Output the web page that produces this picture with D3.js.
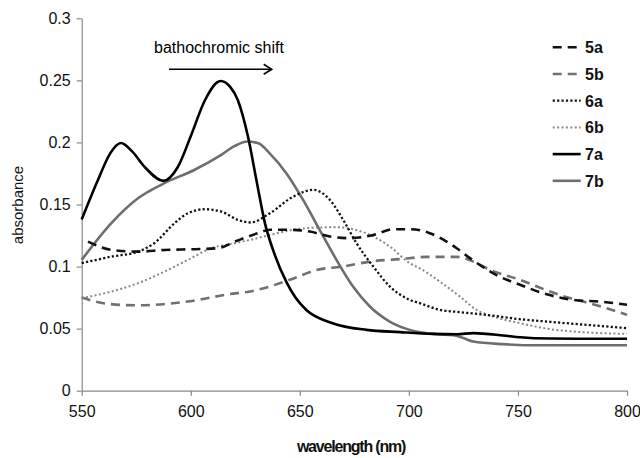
<!DOCTYPE html>
<html>
<head>
<meta charset="utf-8">
<script src="https://cdn.jsdelivr.net/npm/d3@7"></script>
<style>
  html, body { margin: 0; padding: 0; background: #fff; }
  svg { display: block; font-family: "Liberation Sans", Arial, sans-serif; }
</style>
</head>
<body>
<svg id="chart" width="640" height="458"></svg>
<script>
// ---- data ----
const seriesNames = ["5a", "5b", "6a", "6b", "7a", "7b"];

const wl5a = [552.9, 563.6, 575.8, 588, 601.8, 612.5, 620.1, 630.8, 636.3, 645.4, 654.6, 663.8, 673, 683.7, 692.9, 700.4, 709.6, 717.3, 721.9, 728, 740, 751, 765, 775.3, 787.6, 800];
const abs5a = [0.1201, 0.1134, 0.112, 0.1134, 0.114, 0.1148, 0.120, 0.1269, 0.1296, 0.1296, 0.1282, 0.1242, 0.1229, 0.1255, 0.1301, 0.1301, 0.1269, 0.1201, 0.1148, 0.1068, 0.0933, 0.0853, 0.0768, 0.0732, 0.0718, 0.0692];

const wl5b = [550, 562, 574.3, 587.5, 600.6, 617.4, 627.1, 645.4, 657.7, 669.9, 682.1, 695.9, 708.1, 721.9, 729.5, 737.1, 750.9, 764.7, 772, 779.9, 790.6, 800];
const abs5b = [0.075, 0.070, 0.0688, 0.0697, 0.0723, 0.0777, 0.0799, 0.0893, 0.0973, 0.100, 0.104, 0.106, 0.1078, 0.1078, 0.104, 0.0975, 0.0893, 0.0799, 0.0755, 0.0718, 0.0665, 0.0611];

const wl6a = [550, 563.6, 575.8, 583.4, 592.6, 598.7, 606.4, 614, 621.6, 627.5, 636.3, 647, 656.2, 663.8, 669.9, 676, 683.7, 691.3, 700.4, 705, 714.2, 723.4, 735.6, 750.9, 764.7, 800];
const abs6a = [0.1027, 0.108, 0.112, 0.119, 0.135, 0.143, 0.1462, 0.1443, 0.1376, 0.1355, 0.143, 0.1564, 0.1618, 0.1537, 0.1376, 0.1188, 0.100, 0.0839, 0.0732, 0.0705, 0.0651, 0.0633, 0.0611, 0.0576, 0.0555, 0.0504];

const wl6b = [550, 563.6, 575.8, 588, 598.7, 609.4, 620.1, 629, 636.3, 647, 657.7, 666.8, 674.4, 683.7, 691.3, 700.4, 704.9, 714.2, 723.4, 731, 738.7, 750.9, 764.7, 775.3, 800];
const abs6b = [0.0745, 0.0799, 0.0866, 0.096, 0.1054, 0.1148, 0.1188, 0.1222, 0.1255, 0.1296, 0.1314, 0.1317, 0.1301, 0.1242, 0.1161, 0.1027, 0.0987, 0.0879, 0.0758, 0.0651, 0.0597, 0.0544, 0.0496, 0.0477, 0.0458];

const wl7a = [550, 557.5, 563, 568, 573, 579, 587.5, 594, 600, 606.5, 613.7, 618, 621.6, 626.2, 630.5, 634, 638, 644, 648, 653, 665, 680.6, 696, 711, 722, 729.5, 743.2, 751, 764.7, 800];
const abs7a = [0.138, 0.170, 0.191, 0.1995, 0.193, 0.180, 0.169, 0.180, 0.205, 0.234, 0.2495, 0.245, 0.234, 0.205, 0.166, 0.135, 0.112, 0.087, 0.075, 0.065, 0.0544, 0.049, 0.0472, 0.0458, 0.0455, 0.0464, 0.0445, 0.043, 0.0420, 0.0418];

const wl7b = [550, 563.6, 575.8, 587.7, 601.8, 614, 620, 626, 631, 636.3, 643.9, 651.5, 659.1, 666.8, 674.4, 682.1, 691.2, 700.4, 712.6, 720.3, 724.9, 729.5, 743.2, 760, 800];
const abs7b = [0.1054, 0.135, 0.155, 0.167, 0.178, 0.190, 0.197, 0.2007, 0.1993, 0.191, 0.175, 0.1537, 0.1296, 0.1054, 0.0839, 0.0678, 0.0557, 0.049, 0.0455, 0.0448, 0.0424, 0.0396, 0.0375, 0.0366, 0.0366];

const xTicks = [550, 600, 650, 700, 750, 800];
const yTicks = [0, 0.05, 0.1, 0.15, 0.2, 0.25, 0.3];
const yTickLabels = ["0", "0.05", "0.1", "0.15", "0.2", "0.25", "0.3"];

// ---- styles ----
const styles = {
  "5a": { color: "#111", width: 2.6, dash: "9,6" },
  "5b": { color: "#707070", width: 2.6, dash: "9,6" },
  "6a": { color: "#111", width: 2.3, dash: "2.2,2.2" },
  "6b": { color: "#888", width: 2.0, dash: "2,2.4" },
  "7a": { color: "#000", width: 2.6, dash: null },
  "7b": { color: "#6e6e6e", width: 2.6, dash: null }
};

const dataMap = {
  "5a": [wl5a, abs5a], "5b": [wl5b, abs5b], "6a": [wl6a, abs6a],
  "6b": [wl6b, abs6b], "7a": [wl7a, abs7a], "7b": [wl7b, abs7b]
};

// ---- layout ----
const mLeft = 81.7, mRight = 627, mTop = 18.3, mBottom = 390.7;
const svg = d3.select("#chart");
const x = d3.scaleLinear().domain([550, 800]).range([mLeft, mRight]);
const y = d3.scaleLinear().domain([0, 0.3]).range([mBottom, mTop]);

// axes
const axisColor = "#888";
const xAxis = svg.append("g").attr("transform", `translate(0,${mBottom})`)
  .call(d3.axisBottom(x).tickValues(xTicks).tickSize(5).tickPadding(10).tickSizeOuter(0));
const yAxis = svg.append("g").attr("transform", `translate(${mLeft},0)`)
  .call(d3.axisLeft(y).tickValues(yTicks).tickSize(5).tickPadding(6).tickSizeOuter(0)
    .tickFormat((d, i) => yTickLabels[i]));
[xAxis, yAxis].forEach(g => {
  g.select(".domain").attr("stroke", axisColor).attr("stroke-width", 1.2);
  g.selectAll(".tick line").attr("stroke", axisColor).attr("stroke-width", 1.2);
  g.selectAll(".tick text").attr("fill", "#111").attr("font-size", 16)
    .attr("font-family", "'Liberation Sans', Arial, sans-serif");
});

// series lines
const line = d3.line().curve(d3.curveMonotoneX).x(d => x(d[0])).y(d => y(d[1]));
const drawOrder = ["5b", "6b", "7b", "5a", "6a", "7a"];
drawOrder.forEach(name => {
  const [wl, ab] = dataMap[name];
  const pts = wl.map((w, i) => [w, ab[i]]);
  const s = styles[name];
  svg.append("path").datum(pts).attr("d", line)
    .attr("fill", "none").attr("stroke", s.color).attr("stroke-width", s.width)
    .attr("stroke-dasharray", s.dash).attr("stroke-linejoin", "round");
});

// legend
const legend = svg.append("g");
seriesNames.forEach((name, i) => {
  const s = styles[name];
  const ly = 47.3 + i * 26.7;
  legend.append("line").attr("x1", 552.7).attr("x2", 580.7).attr("y1", ly).attr("y2", ly)
    .attr("stroke", s.color).attr("stroke-width", s.width).attr("stroke-dasharray", s.dash);
  legend.append("text").attr("x", 585).attr("y", ly + 5.8).text(name)
    .attr("font-size", 16).attr("font-weight", "bold").attr("fill", "#111");
});

// axis titles
svg.append("text").attr("x", 351).attr("y", 451.5).attr("text-anchor", "middle")
  .attr("font-size", 16).attr("font-weight", "bold").attr("letter-spacing", -1.2)
  .attr("fill", "#111").text("wavelength (nm)");
svg.append("text").attr("transform", "translate(23,205) rotate(-90)").attr("text-anchor", "middle")
  .attr("font-size", 15).attr("fill", "#111").text("absorbance");

// annotation
svg.append("text").attr("x", 154).attr("y", 53.3).attr("font-size", 16)
  .attr("fill", "#000").text("bathochromic shift");
const defs = svg.append("defs");
defs.append("marker").attr("id", "arr").attr("viewBox", "0 0 10 12").attr("refX", 9).attr("refY", 6)
  .attr("markerWidth", 10).attr("markerHeight", 12).attr("markerUnits", "userSpaceOnUse").attr("orient", "auto")
  .append("path").attr("d", "M1,1 L9,6 L1,11").attr("fill", "none").attr("stroke", "#000").attr("stroke-width", 1.6);
svg.append("line").attr("x1", 169).attr("x2", 271.7).attr("y1", 69.3).attr("y2", 69.3)
  .attr("stroke", "#000").attr("stroke-width", 1.6).attr("marker-end", "url(#arr)");
</script>
</body>
</html>
